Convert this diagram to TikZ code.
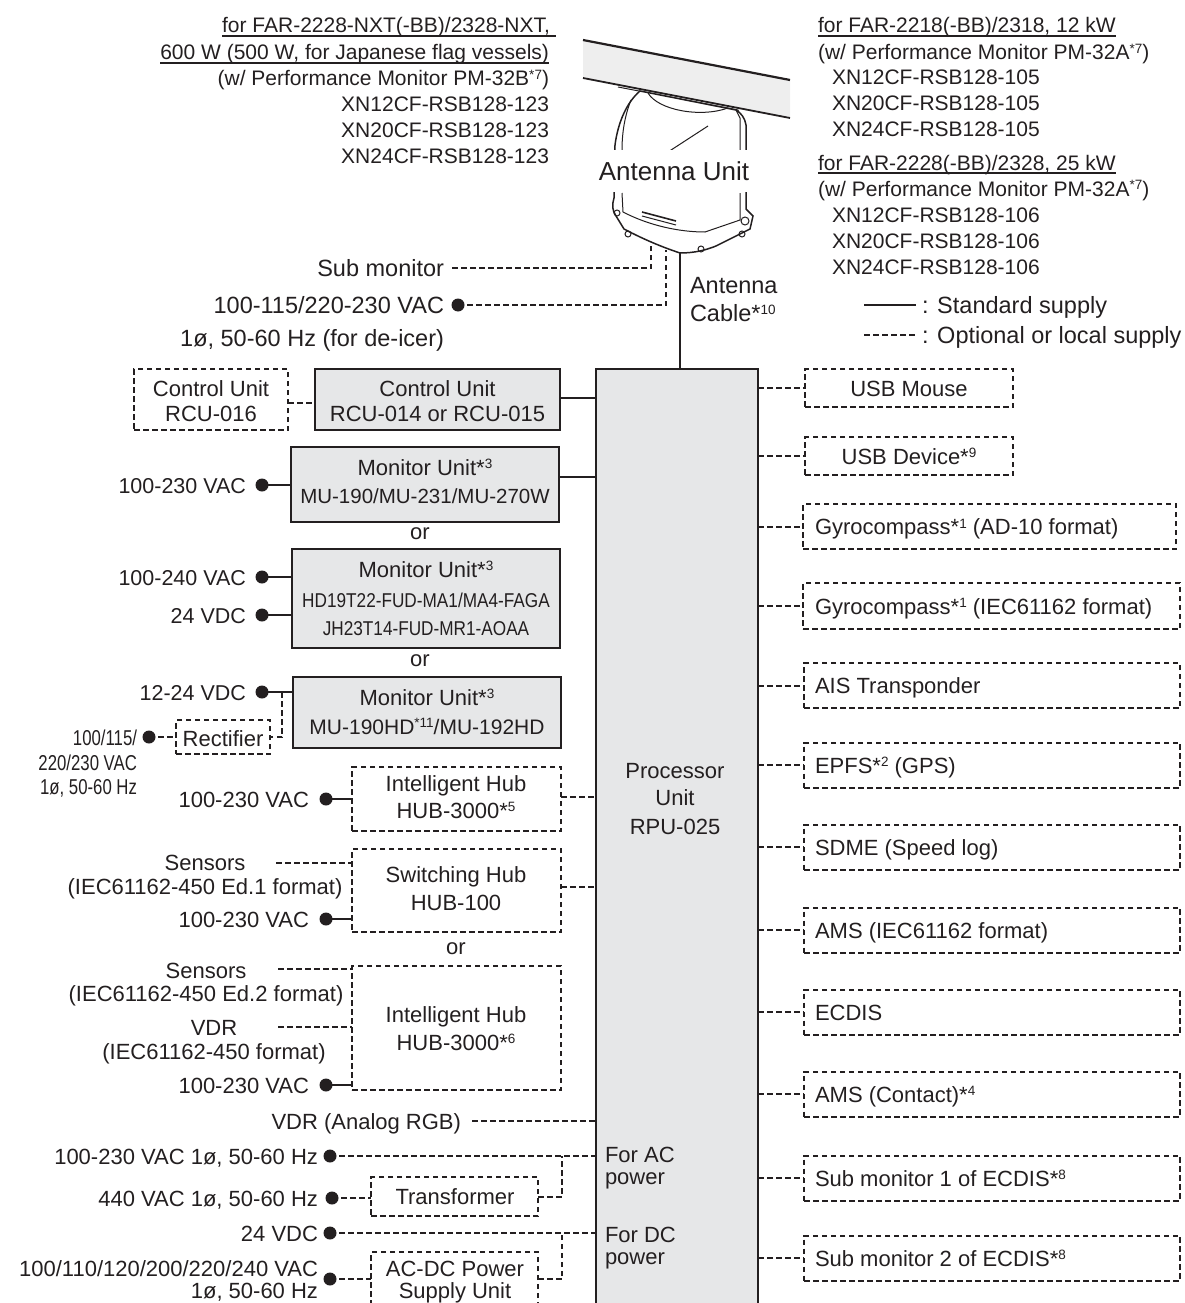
\documentclass[tikz,border=0pt]{standalone}
\usepackage{fontspec}
\setmainfont{Liberation Sans}
\newfontfamily\condA{Liberation Sans}[FakeStretch=0.86]
\newfontfamily\condB{Liberation Sans}[FakeStretch=0.78]
\newcommand\fsz[1]{\fontsize{#1}{#1}\selectfont}
\newcommand\sps[1]{\raisebox{6.5pt}{\fsz{13.5}#1}}
\newcommand\ulx[1]{\leavevmode\setbox0\hbox{#1}\rlap{\rule[-3.6pt]{\wd0}{1.4pt}}\box0}
\definecolor{ink}{HTML}{231F20}
\definecolor{boxgray}{HTML}{E6E7E8}
\definecolor{barfill}{HTML}{EEEEEE}
\tikzset{
  lab/.style={inner sep=0pt, outer sep=0pt, text height=16pt, text depth=0pt, text=ink, font=\fsz{22}},
  sbox/.style={draw=ink, line width=2.2pt, fill=boxgray, inner sep=0pt, outer sep=0pt},
  dbox/.style={draw=ink, line width=2pt, dash pattern=on 5.5pt off 3.5pt, inner sep=0pt, outer sep=0pt},
  conn/.style={draw=ink, line width=2pt},
  dconn/.style={draw=ink, line width=2pt, dash pattern=on 5.5pt off 3.5pt},
  dot/.style={circle, fill=ink, inner sep=0pt, outer sep=0pt, minimum size=13pt},
  thin/.style={draw=ink, line width=1pt},
}
\begin{document}
\begin{tikzpicture}[x=1pt,y=-1pt]
\useasboundingbox (0,0) rectangle (1185,1303);
\clip (0,0) rectangle (1185,1303);

% ---------------- processor unit ----------------
\node[sbox, minimum width=162pt, minimum height=960pt] (pu) at (677,849) {};
\node[lab] (tpu1) at (675,770) {Processor};
\node[lab] (tpu2) at (675,797) {Unit};
\node[lab] (tpu3) at (675,826) {RPU-025};
\node[lab, anchor=west] (tpac1) at (605,1154) {For AC};
\node[lab, anchor=west] (tpac2) at (605,1176) {power};
\node[lab, anchor=west] (tpdc1) at (605,1234) {For DC};
\node[lab, anchor=west] (tpdc2) at (605,1256) {power};

% ---------------- antenna unit drawing ----------------
\fill[barfill] (583,40) -- (790,80) -- (790,118) -- (583,78) -- cycle;
\draw[ink, line width=2.2pt] (583,40) -- (790,80);
\draw[ink, line width=1.8pt] (583,78) -- (790,118);
\draw[thin] (618,87) -- (738,110) -- (740,116);
\draw[ink, line width=1.5pt, fill=white]
  (640,91) .. controls (627,102) and (618,122) .. (615,145)
  -- (614,198)
  .. controls (612,205) and (612,210) .. (616,216)
  -- (624,229)
  .. controls (645,240) and (662,247) .. (680,253)
  .. controls (695,253) and (706,250) .. (716,246)
  -- (750,229) -- (753,216) -- (746,209)
  -- (746,125)
  .. controls (745,118) and (741,113) .. (736,110)
  -- cycle;
\draw[thin] (648,93) .. controls (658,110) and (700,118) .. (728,108);
\draw[thin] (631,100) .. controls (625,115) and (622,132) .. (622,150);
\draw[thin] (736,110) -- (740,118) -- (740,150);
\draw[thin] (668,152) -- (708,126);
\draw[thin] (622,193) -- (623,212) .. controls (650,226) and (680,232) .. (705,232) -- (740,220) -- (740,193);
\draw[ink, line width=1.6pt] (642,212) -- (676,221);
\draw[thin] (642,216) -- (676,225);
\draw[thin] (617,213) circle (3pt);
\draw[thin] (628,234) circle (3pt);
\draw[thin] (701,249) circle (3pt);
\draw[thin] (742,234) circle (3pt);
\draw[thin] (745,221) circle (4pt);
\node[lab, font=\fsz{26}, fill=white, text height=18.6pt, minimum width=154pt, minimum height=42pt] (au) at (674,171) {Antenna Unit};

\coordinate (ab1) at (651,245);
\coordinate (ab2) at (666,250);
\coordinate (ab3) at (680,252);
\draw[conn] (ab3) -- (ab3 |- pu.north);
\node[lab, anchor=west, font=\fsz{23.5}] (tac1) at (690,285) {Antenna};
\node[lab, anchor=west, font=\fsz{23.5}] (tac2) at (690,313) {Cable*\sps{10}};

\node[lab, anchor=east, font=\fsz{23.5}] (tsm) at (444,268) {Sub monitor};
\coordinate (smst) at (452,268);
\draw[dconn] (smst) -- (smst -| ab1) -- (ab1);
\node[lab, anchor=east, font=\fsz{23.5}] (tdi1) at (444,305) {100-115/220-230 VAC};
\node[dot] (ddi) at (458,305) {};
\draw[dconn] (ddi.center) -- (ddi -| ab2) -- (ab2);
\node[lab, anchor=east, font=\fsz{23.5}] (tdi2) at (444,338) {1ø, 50-60 Hz (for de-icer)};

% ---------------- top text blocks ----------------
\node[lab, anchor=east, font=\fsz{21}] (tl1) at (556,25) {\ulx{for FAR-2228-NXT(-BB)/2328-NXT,\kern6pt}};
\node[lab, anchor=east, font=\fsz{21}] (tl2) at (549,52) {\ulx{600 W (500 W, for Japanese flag vessels)}};
\node[lab, anchor=east, font=\fsz{21}] (tl3) at (549,78) {(w/ Performance Monitor PM-32B\sps{*7})};
\node[lab, anchor=east, font=\fsz{21}] (tl4) at (549,104) {XN12CF-RSB128-123};
\node[lab, anchor=east, font=\fsz{21}] (tl5) at (549,130) {XN20CF-RSB128-123};
\node[lab, anchor=east, font=\fsz{21}] (tl6) at (549,156) {XN24CF-RSB128-123};

\node[lab, anchor=west, font=\fsz{21}] (tr1) at (818,25) {\ulx{for FAR-2218(-BB)/2318, 12 kW}};
\node[lab, anchor=west, font=\fsz{21}] (tr2) at (818,52) {(w/ Performance Monitor PM-32A\sps{*7})};
\node[lab, anchor=west, font=\fsz{21}] (tr3) at (832,77) {XN12CF-RSB128-105};
\node[lab, anchor=west, font=\fsz{21}] (tr4) at (832,103) {XN20CF-RSB128-105};
\node[lab, anchor=west, font=\fsz{21}] (tr5) at (832,128) {XN24CF-RSB128-105};
\node[lab, anchor=west, font=\fsz{21}] (tr6) at (818,162) {\ulx{for FAR-2228(-BB)/2328, 25 kW}};
\node[lab, anchor=west, font=\fsz{21}] (tr7) at (818,188) {(w/ Performance Monitor PM-32A\sps{*7})};
\node[lab, anchor=west, font=\fsz{21}] (tr8) at (832,214) {XN12CF-RSB128-106};
\node[lab, anchor=west, font=\fsz{21}] (tr9) at (832,240) {XN20CF-RSB128-106};
\node[lab, anchor=west, font=\fsz{21}] (tr10) at (832,266) {XN24CF-RSB128-106};

% legend
\coordinate (lgA) at (864,305); \coordinate (lgB) at (916,305);
\coordinate (lgC) at (864,335); \coordinate (lgD) at (916,335);
\draw[conn] (lgA) -- (lgB);
\draw[dconn] (lgC) -- (lgD);
\node[lab, anchor=west, font=\fsz{23.5}] (tlg1) at (922,305) {: Standard supply};
\node[lab, anchor=west, font=\fsz{23.5}] (tlg2) at (922,335) {: Optional or local supply};

% ---------------- control units ----------------
\node[dbox, minimum width=154pt, minimum height=61pt] (rcu16) at (211,399.5) {};
\node[sbox, minimum width=245pt, minimum height=61pt] (rcu14) at (437.5,399.5) {};
\node[lab] (trcu16a) at (211,388) {Control Unit};
\node[lab] (trcu16b) at (211,413) {RCU-016};
\node[lab] (trcu14a) at (437.5,388) {Control Unit};
\node[lab] (trcu14b) at (437.5,413) {RCU-014 or RCU-015};
\draw[dconn] ([yshift=-3pt]rcu16.east) -- ([yshift=-3pt]rcu16.east -| rcu14.west);
\draw[conn] ([yshift=2pt]rcu14.east) -- ([yshift=2pt]rcu14.east -| pu.west);

% ---------------- monitor units ----------------
\node[sbox, minimum width=268pt, minimum height=75pt] (mu1) at (425,484.5) {};
\node[lab] (tmu1a) at (425,467) {Monitor Unit*\sps{3}};
\node[lab, font=\fsz{20.5}] (tmu1b) at (425,495) {MU-190/MU-231/MU-270W};
\node[dot] (dmu1) at (262,485) {};
\node[lab, anchor=east, font=\fsz{21.5}] (tmu1v) at (246,485) {100-230 VAC};
\draw[conn] (dmu1.center) -- (dmu1 -| mu1.west);
\draw[conn] ([yshift=8pt]mu1.east) -- ([yshift=8pt]mu1.east -| pu.west);
\node[lab] (or1) at (420,531) {or};

\node[sbox, minimum width=268pt, minimum height=99pt] (mu2) at (426,598.5) {};
\node[lab] (tmu2a) at (426,569) {Monitor Unit*\sps{3}};
\node[lab, font=\condA\fsz{20}] (tmu2b) at (426,599) {HD19T22-FUD-MA1/MA4-FAGA};
\node[lab, font=\condA\fsz{20}] (tmu2c) at (426,627) {JH23T14-FUD-MR1-AOAA};
\node[dot] (dmu2a) at (262,577) {};
\node[dot] (dmu2b) at (262,615) {};
\node[lab, anchor=east, font=\fsz{21.5}] (tmu2v) at (246,577) {100-240 VAC};
\node[lab, anchor=east, font=\fsz{21.5}] (tmu2d) at (246,615) {24 VDC};
\draw[conn] (dmu2a.center) -- (dmu2a -| mu2.west);
\draw[conn] (dmu2b.center) -- (dmu2b -| mu2.west);
\node[lab] (or2) at (420,658) {or};

\node[sbox, minimum width=268pt, minimum height=71pt] (mu3) at (427,712.5) {};
\node[lab] (tmu3a) at (427,697) {Monitor Unit*\sps{3}};
\node[lab, font=\fsz{21}] (tmu3b) at (427,726) {MU-190HD\sps{*11}/MU-192HD};
\node[dot] (dmu3) at (262,692) {};
\node[lab, anchor=east, font=\fsz{21.5}] (tmu3v) at (246,692) {12-24 VDC};
\draw[conn] (dmu3.center) -- (dmu3 -| mu3.west);
\node[dbox, minimum width=94pt, minimum height=34pt] (rect) at (223,737) {};
\node[lab] (trect) at (223,738) {Rectifier};
\coordinate (rj) at (282,692);
\draw[dconn] (rj) -- (rj |- rect.east) -- (rect.east);
\node[dot] (drect) at (149,737) {};
\draw[dconn] (drect.center) -- (rect.west);
\node[lab, anchor=east, font=\condB\fsz{21.5}] (trv1) at (137,737) {100/115/};
\node[lab, anchor=east, font=\condB\fsz{21.5}] (trv2) at (137,762) {220/230 VAC};
\node[lab, anchor=east, font=\condB\fsz{21.5}] (trv3) at (137,786) {1ø, 50-60 Hz};

% ---------------- hubs ----------------
\node[dbox, minimum width=209pt, minimum height=64pt] (hub5) at (456.5,799) {};
\node[lab] (th5a) at (456,783) {Intelligent Hub};
\node[lab] (th5b) at (456,810) {HUB-3000*\sps{5}};
\node[dot] (dh5) at (326,799) {};
\node[lab, anchor=east] (th5v) at (309,799) {100-230 VAC};
\draw[conn] (dh5.center) -- (dh5 -| hub5.west);
\draw[dconn] ([yshift=2pt]hub5.east) -- ([yshift=2pt]hub5.east -| pu.west);

\node[dbox, minimum width=209pt, minimum height=83pt] (hub100) at (456.5,890.5) {};
\node[lab] (th1a) at (456,874) {Switching Hub};
\node[lab] (th1b) at (456,902) {HUB-100};
\node[lab] (tsen1) at (205,862) {Sensors};
\node[lab] (tsen1b) at (205,886) {(IEC61162-450 Ed.1 format)};
\coordinate (sen1) at (276,863);
\draw[dconn] (sen1) -- (sen1 -| hub100.west);
\node[dot] (dh1) at (326,919) {};
\node[lab, anchor=east] (th1v) at (309,919) {100-230 VAC};
\draw[conn] (dh1.center) -- (dh1 -| hub100.west);
\draw[dconn] ([yshift=3.5pt]hub100.east) -- ([yshift=3.5pt]hub100.east -| pu.west);
\node[lab] (or3) at (456,946) {or};

\node[dbox, minimum width=209pt, minimum height=124pt] (hub6) at (456.5,1028) {};
\node[lab] (th6a) at (456,1014) {Intelligent Hub};
\node[lab] (th6b) at (456,1042) {HUB-3000*\sps{6}};
\node[lab] (tsen2) at (206,970) {Sensors};
\node[lab] (tsen2b) at (206,993) {(IEC61162-450 Ed.2 format)};
\coordinate (sen2) at (278,969);
\draw[dconn] (sen2) -- (sen2 -| hub6.west);
\node[lab] (tvdr1) at (214,1027) {VDR};
\node[lab] (tvdr1b) at (214,1051) {(IEC61162-450 format)};
\coordinate (vdr1) at (278,1027);
\draw[dconn] (vdr1) -- (vdr1 -| hub6.west);
\node[dot] (dh6) at (326,1085) {};
\node[lab, anchor=east] (th6v) at (309,1085) {100-230 VAC};
\draw[conn] (dh6.center) -- (dh6 -| hub6.west);

% ---------------- VDR / power ----------------
\node[lab, anchor=east] (tvdr2) at (461,1121) {VDR (Analog RGB)};
\coordinate (vdr2) at (472,1121);
\draw[dconn] (vdr2) -- (vdr2 -| pu.west);

\node[lab, anchor=east] (tac) at (318,1156) {100-230 VAC 1ø, 50-60 Hz};
\node[dot] (dac) at (330,1156) {};
\draw[dconn] (dac.center) -- (dac -| pu.west);
\node[dbox, minimum width=167pt, minimum height=39pt] (trans) at (454.5,1196.5) {};
\node[lab] (ttrans) at (455,1196) {Transformer};
\node[lab, anchor=east] (t440) at (318,1198) {440 VAC 1ø, 50-60 Hz};
\node[dot] (d440) at (332,1198) {};
\draw[dconn] (d440.center) -- (d440 -| trans.west);
\coordinate (acj) at (562,1156);
\draw[dconn] (trans.east) -- (trans.east -| acj) -- (acj);

\node[lab, anchor=east] (t24) at (318,1233) {24 VDC};
\node[dot] (d24) at (330,1233) {};
\draw[dconn] (d24.center) -- (d24 -| pu.west);
\node[dbox, minimum width=167pt, minimum height=68pt] (acdc) at (454.5,1286) {};
\node[lab] (tacdc1) at (455,1268) {AC-DC Power};
\node[lab] (tacdc2) at (455,1290) {Supply Unit};
\node[lab, anchor=east] (tmul1) at (318,1268) {100/110/120/200/220/240 VAC};
\node[lab, anchor=east] (tmul2) at (318,1290) {1ø, 50-60 Hz};
\node[dot] (dacdc) at (330,1279) {};
\draw[dconn] (dacdc.center) -- (dacdc -| acdc.west);
\coordinate (dcj) at (562,1233);
\draw[dconn] (dacdc -| acdc.east) -- (dacdc -| dcj) -- (dcj);

% ---------------- right side peripherals ----------------
\node[dbox, minimum width=208pt, minimum height=38pt] (usbm) at (909,388) {};
\node[dbox, minimum width=208pt, minimum height=38pt] (usbd) at (909,456) {};
\node[dbox, minimum width=373pt, minimum height=45pt] (gyro1) at (989.5,526.5) {};
\node[dbox, minimum width=377pt, minimum height=46pt] (gyro2) at (991.5,606) {};
\node[dbox, minimum width=376pt, minimum height=45pt] (ais) at (992,685.5) {};
\node[dbox, minimum width=376pt, minimum height=45pt] (epfs) at (992,765) {};
\node[dbox, minimum width=376pt, minimum height=45pt] (sdme) at (992,847) {};
\node[dbox, minimum width=376pt, minimum height=45pt] (amsi) at (992,930) {};
\node[dbox, minimum width=376pt, minimum height=45pt] (ecdis) at (992,1012) {};
\node[dbox, minimum width=376pt, minimum height=45pt] (amsc) at (992,1094) {};
\node[dbox, minimum width=376pt, minimum height=45pt] (sub1) at (992,1178) {};
\node[dbox, minimum width=376pt, minimum height=45pt] (sub2) at (992,1258) {};
\foreach \n in {usbm,usbd,gyro1,gyro2,ais,epfs,sdme,amsi,ecdis,amsc,sub1,sub2}
  \draw[dconn] (pu.east |- \n.west) -- (\n.west);
\node[lab] (tusbm) at (usbm.center) {USB Mouse};
\node[lab] (tusbd) at (usbd.center) {USB Device*\sps{9}};
\node[lab, anchor=west] (tgyro1) at ([xshift=12pt]gyro1.west) {Gyrocompass*\sps{1} (AD-10 format)};
\node[lab, anchor=west] (tgyro2) at ([xshift=12pt]gyro2.west) {Gyrocompass*\sps{1} (IEC61162 format)};
\node[lab, anchor=west] (tais) at ([xshift=11pt]ais.west) {AIS Transponder};
\node[lab, anchor=west] (tepfs) at ([xshift=11pt]epfs.west) {EPFS*\sps{2} (GPS)};
\node[lab, anchor=west] (tsdme) at ([xshift=11pt]sdme.west) {SDME (Speed log)};
\node[lab, anchor=west] (tamsi) at ([xshift=11pt]amsi.west) {AMS (IEC61162 format)};
\node[lab, anchor=west] (tecdis) at ([xshift=11pt]ecdis.west) {ECDIS};
\node[lab, anchor=west] (tamsc) at ([xshift=11pt]amsc.west) {AMS (Contact)*\sps{4}};
\node[lab, anchor=west] (tsub1) at ([xshift=11pt]sub1.west) {Sub monitor 1 of ECDIS*\sps{8}};
\node[lab, anchor=west] (tsub2) at ([xshift=11pt]sub2.west) {Sub monitor 2 of ECDIS*\sps{8}};
\end{tikzpicture}
\end{document}
